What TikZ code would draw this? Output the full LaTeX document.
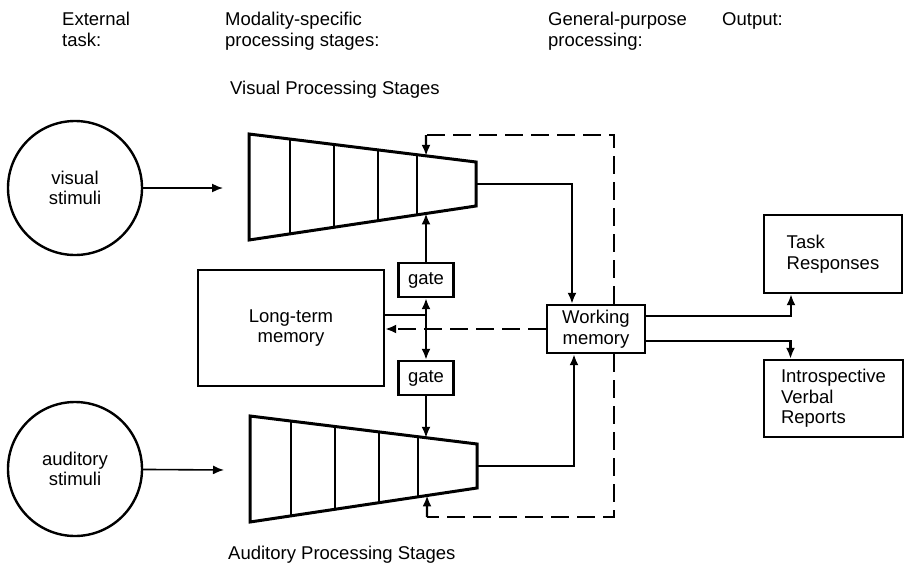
\documentclass[tikz,border=0pt]{standalone}
\usepackage{fontspec}
\setmainfont{Liberation Sans}
\usetikzlibrary{arrows.meta,calc}

\begin{document}
\begin{tikzpicture}[
  x=1pt, y=-1pt,
  font=\fontsize{18.5}{20.5}\selectfont,
  box/.style={draw, line width=2.4pt, inner sep=0pt, align=center},
  gate/.style={box, minimum width=55pt, minimum height=34pt},
  stim/.style={draw, circle, line width=2.4pt, minimum size=134pt, inner sep=0pt, align=center},
  lab/.style={anchor=north west, inner sep=0pt, align=left},
  link/.style={line width=2.1pt},
  arr/.style={link, -{Latex[length=11pt,width=9pt]}},
  ctrl/.style={line width=2.1pt, dash pattern=on 18pt off 8pt},
  stages/.pic={
    \coordinate (-tl) at (0,0);
    \coordinate (-tr) at (227,28);
    \coordinate (-br) at (227,72);
    \coordinate (-bl) at (0,106);
    \coordinate (-in) at (-26,54);
    \coordinate (-out) at (227,50);
    \coordinate (-dt) at (177,1);
    \coordinate (-db) at (177,101);
    \coordinate (-gt) at ($(-tl)!0.78!(-tr)$);
    \coordinate (-gb) at ($(-bl)!0.78!(-br)$);
    \draw[line width=3pt, line join=miter] (-tl) -- (-tr) -- (-br) -- (-bl) -- cycle;
    \foreach \s in {41,85,129,168}
      \draw[line width=2.8pt] ($(-tl)!{\s/227}!(-tr)$) -- ($(-bl)!{\s/227}!(-br)$);
  },
]
\useasboundingbox (0,0) rectangle (905,565);

% column headings
\node[lab] (hext) at (62,12) {External\\task:};
\node[lab] (hmod) at (225,12) {Modality-specific\\processing stages:};
\node[lab] (hgen) at (548,12) {General-purpose\\processing:};
\node[lab] (hout) at (722,12) {Output:};

% the two stage pipelines
\pic (vis) at (249,134) {stages};
\pic (aud) at (250,416) {stages};
\node[lab] (vlab) at (230,81) {Visual Processing Stages};
\node[lab] (alab) at (228,546) {Auditory Processing Stages};

\node[stim] (vstim) at (75,188) {visual\\stimuli};
\node[stim] (astim) at (75,469) {auditory\\stimuli};
\node[box, minimum width=186pt, minimum height=116pt] (ltm) at (291,328) {Long-term\\memory};
\node[gate] (gate1) at (426,280) {gate};
\node[gate] (gate2) at (426,378) {gate};
\node[box, minimum width=98pt, minimum height=48pt] (wm) at (596,329) {Working\\memory};
\node[box, align=left, minimum width=138pt, minimum height=78pt] (task) at (833,254) {Task\\Responses};
\node[box, align=left, minimum width=139pt, minimum height=77pt] (intro) at (833.5,398.5) {Introspective\\Verbal\\Reports};

\draw[arr, line width=1.6pt] (vstim) -- (vis-in);
\draw[arr, line width=1.6pt] (astim) -- (aud-in);

\draw[arr] (vis-out) -| ([xshift=-24pt]wm.north);
\draw[arr] (aud-out) -| ([xshift=-22pt]wm.south);

% control loop back to the last stages
\draw[ctrl] ([xshift=18pt]wm.north) |- (vis-dt);
\draw[arr] (vis-dt) -- (vis-gt);
\draw[ctrl] ([xshift=18pt]wm.south) |- (aud-db);
\draw[arr] (aud-db) -- (aud-gb);

% gates
\draw[arr] (gate1) -- (gate1.north |- vis-gb);
\draw[arr] (gate2) -- (gate2.south |- aud-gt);
\draw[link, {Latex[length=11pt,width=9pt]}-{Latex[length=11pt,width=9pt]}] (gate1) -- (gate2);
\draw[link] ([yshift=13pt]ltm.east) -- ([yshift=13pt]ltm.east -| gate1);
\draw[arr, ctrl] (wm.west) -- (ltm.east |- wm.west);

% outputs
\draw[arr] ([yshift=13pt]wm.east) -| ([xshift=-42pt]task.south);
\draw[arr] ([yshift=-12pt]wm.east) -| ([xshift=-43pt]intro.north);
\end{tikzpicture}
\end{document}
